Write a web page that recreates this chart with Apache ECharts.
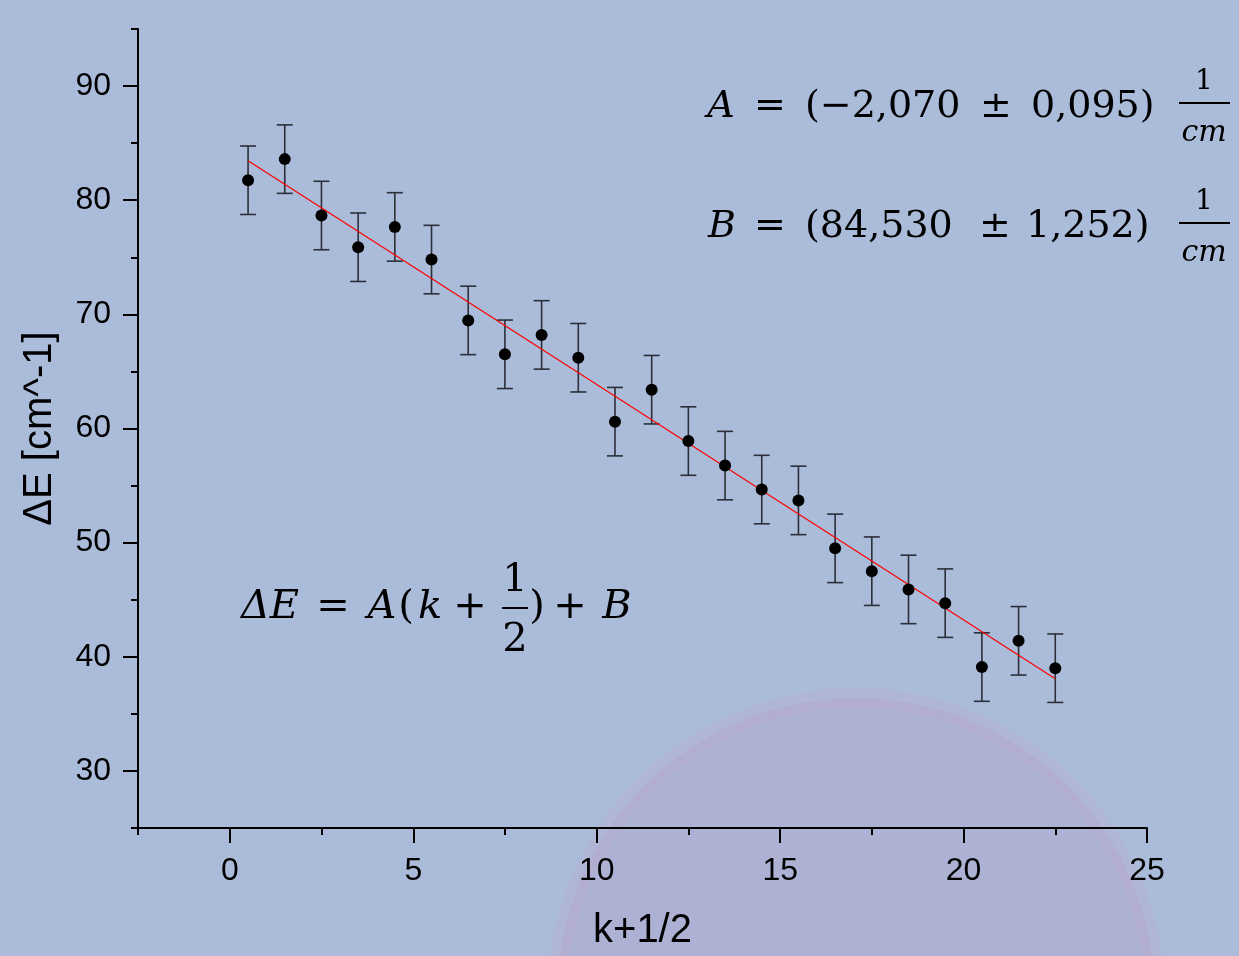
<!DOCTYPE html>
<html>
<head>
<meta charset="utf-8">
<script src="https://cdn.jsdelivr.net/npm/echarts@6/dist/echarts.min.js"></script>
<style>html,body{margin:0;padding:0;background:#abbcda;}#c{width:1239px;height:956px;}</style>
</head>
<body>
<div id="c"></div>
<script>
// ---- data ----
const xValues = [0.5,1.5,2.5,3.5,4.5,5.5,6.5,7.5,8.5,9.5,10.5,11.5,12.5,13.5,14.5,15.5,16.5,17.5,18.5,19.5,20.5,21.5,22.5];
const yValues = [81.75,83.6,78.66,75.88,77.66,74.8,69.47,66.5,68.2,66.2,60.6,63.4,58.9,56.75,54.65,53.7,49.5,47.5,45.9,44.7,39.1,41.4,39.0];
const yErrors = [3,3,3,3,3,3,3,3,3,3,3,3,3,3,3,3,3,3,3,3,3,3,3];
const fitX = [0.5, 22.5];
const fitY = [83.45, 38.07];
const xTickLabels = [0,5,10,15,20,25];
const yTickLabels = [30,40,50,60,70,80,90];
const xRange = [-2.5, 25];
const yRange = [25, 95];
const xName = 'k+1/2';
const yName = 'ΔE [cm^-1]';

const points = xValues.map((x,i)=>[x, yValues[i]]);
const errData = xValues.map((x,i)=>[x, yValues[i], yErrors[i]]);
const fitData = fitX.map((x,i)=>[x, fitY[i]]);

const chart = echarts.init(document.getElementById('c'), null, {renderer:'canvas'});

const serif = '"DejaVu Serif", serif';
function txt(x, y, text, size, italic, align){
  return {type:'text', x:x, y:y, z:50,
    style:{text:text, fill:'#000', font:(italic?'italic ':'')+size+'px '+serif, align:align||'center', verticalAlign:'middle'}};
}
function bar(x1,x2,y){
  return {type:'line', z:50, shape:{x1:x1,y1:y,x2:x2,y2:y}, style:{stroke:'#000', lineWidth:2}};
}

const graphics = [
  {type:'circle', z:-10, shape:{cx:856, cy:997, r:299},
   style:{fill:'rgba(180,145,195,0.22)', stroke:'rgba(210,150,195,0.13)', lineWidth:20}},
  // A line
  txt(721,107,'A',38,true), txt(770,107,'=',38,false),
  txt(805,107,'(−2,070',38,false,'left'), txt(996,107,'±',38,false),
  txt(1031,107,'0,095)',38,false,'left'),
  txt(1204,82,'1',28,false), bar(1179,1230,103), txt(1204,133,'cm',30,true),
  // B line
  txt(722,227,'B',38,true), txt(770,227,'=',38,false),
  txt(805,227,'(84,530',38,false,'left'), txt(995,227,'±',38,false),
  txt(1026,227,'1,252)',38,false,'left'),
  txt(1204,202,'1',28,false), bar(1179,1230,223), txt(1204,253,'cm',30,true),
  // ΔE formula
  txt(270,608,'ΔE',40,true), txt(333,608,'=',40,false), txt(382,608,'A',40,true),
  txt(406,608,'(',40,false), txt(430,608,'k',40,true), txt(470,608,'+',40,false),
  txt(515,581,'1',40,false), bar(502,528,608), txt(515,641,'2',40,false),
  txt(537,608,')',40,false), txt(570,608,'+',40,false), txt(617,608,'B',40,true)
];

const sans = '"Liberation Sans", Arial, sans-serif';
const option = {
  backgroundColor:'#abbcda',
  animation:false,
  grid:[
    {left:138, right:92, top:29, bottom:128, outerBoundsMode:'none', containLabel:false},
    {left:230, right:92, top:86, bottom:185, outerBoundsMode:'none', containLabel:false}
  ],
  xAxis:[
    {type:'value', gridIndex:0, min:xRange[0], max:xRange[1], interval:5,
     axisLine:{show:true, onZero:false, lineStyle:{color:'#000', width:2}},
     axisTick:{show:true, length:7, lineStyle:{color:'#000', width:2}},
     axisLabel:{show:false}, splitLine:{show:false},
     name:xName, nameLocation:'middle', nameGap:83,
     nameTextStyle:{fontFamily:sans, fontSize:40, color:'#000'}},
    {type:'value', gridIndex:1, min:xTickLabels[0], max:xTickLabels[xTickLabels.length-1], interval:xTickLabels[1]-xTickLabels[0],
     position:'bottom', offset:57,
     axisLine:{show:false, onZero:false}, 
     axisTick:{show:true, length:15, lineStyle:{color:'#000', width:2}},
     axisLabel:{show:true, margin:27, fontFamily:sans, fontSize:32, color:'#000'},
     splitLine:{show:false}}
  ],
  yAxis:[
    {type:'value', gridIndex:0, min:yRange[0], max:yRange[1], interval:10,
     axisLine:{show:true, onZero:false, lineStyle:{color:'#000', width:2}},
     axisTick:{show:true, length:7, lineStyle:{color:'#000', width:2}},
     axisLabel:{show:false}, splitLine:{show:false},
     name:yName, nameLocation:'middle', nameGap:78, nameRotate:90,
     nameTextStyle:{fontFamily:sans, fontSize:40, color:'#000'}},
    {type:'value', gridIndex:1, min:yTickLabels[0], max:yTickLabels[yTickLabels.length-1], interval:yTickLabels[1]-yTickLabels[0],
     position:'left', offset:92,
     axisLine:{show:false, onZero:false},
     axisTick:{show:true, length:15, lineStyle:{color:'#000', width:2}},
     axisLabel:{show:true, margin:27, fontFamily:sans, fontSize:32, color:'#000'},
     splitLine:{show:false}}
  ],
  series:[
    {type:'custom', xAxisIndex:0, yAxisIndex:0, z:3, data:errData,
     renderItem:function(params, api){
       const x = api.value(0), y = api.value(1), e = api.value(2);
       const top = api.coord([x, y+e]);
       const bot = api.coord([x, y-e]);
       const hw = 8;
       const st = {stroke:'#2b2f38', lineWidth:1.6};
       return {type:'group', children:[
         {type:'line', shape:{x1:top[0], y1:top[1], x2:bot[0], y2:bot[1]}, style:st},
         {type:'line', shape:{x1:top[0]-hw, y1:top[1], x2:top[0]+hw, y2:top[1]}, style:st},
         {type:'line', shape:{x1:bot[0]-hw, y1:bot[1], x2:bot[0]+hw, y2:bot[1]}, style:st}
       ]};
     }},
    {type:'line', xAxisIndex:0, yAxisIndex:0, z:4, data:fitData, symbol:'none',
     lineStyle:{color:'#ff0000', width:1.2}},
    {type:'scatter', xAxisIndex:0, yAxisIndex:0, z:5, data:points, symbol:'circle', symbolSize:12,
     itemStyle:{color:'#000', opacity:1}}
  ],
  graphic:graphics
};
chart.setOption(option);
</script>
</body>
</html>
